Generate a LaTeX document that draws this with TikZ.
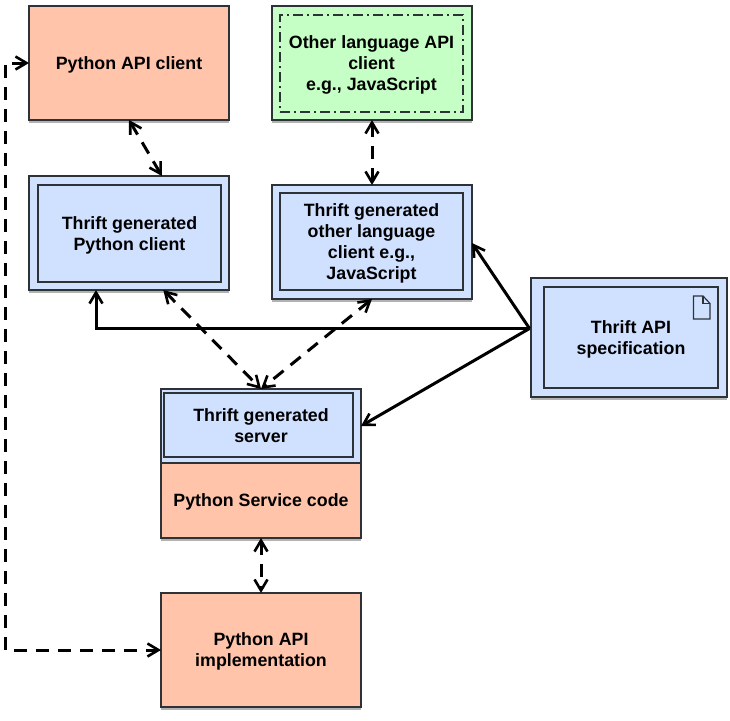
\documentclass[tikz,border=0pt]{standalone}
\usepackage{fontspec}
\setmainfont{Liberation Sans}
\usetikzlibrary{arrows.meta,shadows}
\definecolor{peach}{RGB}{255,196,170}
\definecolor{paleblue}{RGB}{208,224,255}
\definecolor{palegreen}{RGB}{198,255,198}
\definecolor{edgegrey}{RGB}{45,50,55}
\tikzset{
    softshadow/.style={drop shadow={shadow xshift=0pt, shadow yshift=-2.5pt, opacity=0.3, fill=black}},
    box/.style={shape=rectangle, draw=edgegrey, line width=1.6pt, inner sep=0pt, outer sep=0pt, align=center,
        font=\fontsize{17.8}{21}\selectfont\bfseries, text depth=-3pt},
    outerbox/.style={box, softshadow, minimum width=200pt, minimum height=114pt},
    innerbox/.style={box, fill=paleblue, line width=1.5pt},
    link/.style={line width=3pt, black, >={Straight Barb[length=11pt, width=13pt, line width=2.6pt]}},
    gapped/.style={link, dash pattern=on 13pt off 9pt},
}
\begin{document}
\begin{tikzpicture}[x=1pt, y=-1pt]
    \useasboundingbox (0, 0) rectangle (730, 720);

    \node (pyclient) at (129, 63) [outerbox, fill=peach] {Python API client};

    \node (otherclient) at (372, 63) [outerbox, fill=palegreen] {};
    \node (otherinner) at (371.5, 63.5) [box, line width=1.4pt, minimum width=183pt, minimum height=97pt,
        dash pattern=on 10pt off 4pt on 2pt off 4pt] {Other language API\\client\\e.g., JavaScript};

    \node (pygen) at (129, 233) [outerbox, fill=paleblue] {};
    \node (pyinner) at (129.5, 233.5) [innerbox, minimum width=183pt, minimum height=97pt] {Thrift generated\\Python client};

    \node (othergen) at (372, 242) [outerbox, fill=paleblue] {};
    \node (othergeninner) at (371.5, 241.5) [innerbox, minimum width=183pt, minimum height=97pt] {Thrift generated\\other language\\client e.g.,\\JavaScript};

    \node (spec) at (629, 337.5) [outerbox, fill=paleblue, minimum width=196pt, minimum height=119pt] {};
    \node (specinner) at (631, 337.5) [innerbox, minimum width=174pt, minimum height=101pt] {Thrift API\\specification};
    \draw[edgegrey, line width=1.2pt, fill=paleblue] (693.5, 296) -- (703, 296) -- (710, 303.5) -- (710, 319) -- (693.5, 319) -- cycle;
    \draw[edgegrey, line width=1.2pt] (703, 296) -- (703, 303.5) -- (710, 303.5);
    \coordinate (specport) at (529.5, 328.5);

    \node (service) at (261, 500.5) [outerbox, fill=peach, minimum height=75pt] {Python Service code};
    \node (servergen) at (261, 426) [box, fill=paleblue, minimum width=200pt, minimum height=74pt] {};
    \node (serverinner) at (258.5, 425) [innerbox, minimum width=189pt, minimum height=64pt] {};
    \node (servertext) at (servergen) [box, draw=none] {Thrift generated\\server};

    \node (impl) at (261, 650) [outerbox, fill=peach] {Python API\\implementation};

    % solid links out of the spec
    \draw[link, ->] (specport) -- (othergen.east |- 0, 243);
    \draw[link, ->] (specport) -- (96, 328.5) -- (pygen.south -| 96, 0);
    \draw[link, ->] (specport) -- (servergen.east);

    % dashed links
    \draw[gapped, <->] (pyclient.south) -- (pygen.60.7);
    \draw[gapped, <->] (otherclient.south) -- (othergen.north);
    \draw[gapped, <->] (pygen.-59.2) -- (servergen.north);
    \draw[gapped, <->] (othergen.south) -- (servergen.north);
    \draw[gapped, <->] (service.south) -- (impl.north);
    \draw[gapped, <->] (pyclient.west) -- (5, 63) -- (5, 650) -- (impl.west);
\end{tikzpicture}
\end{document}
